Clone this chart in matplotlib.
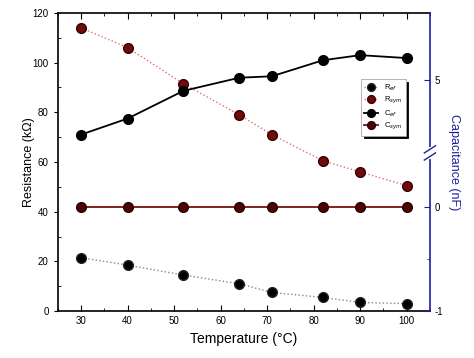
import numpy as np
import matplotlib
matplotlib.use("Agg")
import matplotlib.pyplot as plt
from matplotlib.ticker import MultipleLocator, FixedLocator

plt.rcParams['font.family'] = ['Liberation Sans', 'DejaVu Sans']

# data
temps = [30, 40, 52, 64, 71, 82, 90, 100]
r_ef = [21.5, 18.5, 14.5, 11.0, 7.5, 5.5, 3.5, 3.0]          # kOhm
r_sym = [114, 106, 91.5, 79, 71, 60.5, 56, 50.5]             # kOhm
c_ef = [4.25, 4.47, 4.85, 5.03, 5.05, 5.27, 5.34, 5.30]      # nF
c_sym = [0, 0, 0, 0, 0, 0, 0, 0]                              # nF

# broken capacitance axis: nF -> resistance-axis units
cap_pts = [-1.0, 0.525, 4.0, 5.92]
res_pts = [0.0, 63.6, 63.7, 120.0]

def fwd(c):
    return np.interp(c, cap_pts, res_pts)

def inv(r):
    return np.interp(r, res_pts, cap_pts)

navy = '#1f1f9a'
dark_red = '#6e0b0b'

fig = plt.figure(figsize=(4.74, 3.58), dpi=100)
ax = fig.add_axes([0.122, 0.131, 0.785, 0.833])
ax2 = ax.twinx()
ax2.set_yscale('function', functions=(fwd, inv))

ax.plot(temps, r_ef, ':', color='#888888', lw=1.0, marker='o', ms=7,
        mfc='black', mec='#222222', label=r'R$_{ef}$', zorder=3)
ax.plot(temps, r_sym, ':', color='#e07070', lw=1.0, marker='o', ms=7,
        mfc=dark_red, mec='#3a0000', label=r'R$_{sym}$', zorder=3)
l3, = ax2.plot(temps, c_ef, '-', color='black', lw=1.3, marker='o', ms=7,
               mfc='black', mec='black', label=r'C$_{ef}$', zorder=3)
l4, = ax2.plot(temps, c_sym, '-', color='#7a1010', lw=1.3, marker='o', ms=7,
               mfc='#4a0505', mec='#2a0000', label=r'C$_{sym}$', zorder=3)

ax.set_xlim(25, 105)
ax.set_ylim(0, 120)
ax2.set_ylim(-1, 5.92)

ax.xaxis.set_major_locator(MultipleLocator(10))
ax.xaxis.set_minor_locator(MultipleLocator(5))
ax.yaxis.set_major_locator(MultipleLocator(20))
ax.yaxis.set_minor_locator(MultipleLocator(10))
ax.tick_params(axis='x', which='both', direction='in', top=True, labelsize=7)
ax.tick_params(axis='x', which='major', length=4)
ax.tick_params(axis='x', which='minor', length=2)
ax.tick_params(axis='y', which='major', direction='out', length=3, labelsize=7)
ax.tick_params(axis='y', which='minor', direction='in', length=2)

ax2.yaxis.set_major_locator(FixedLocator([-1, 0, 5]))
ax2.yaxis.set_minor_locator(FixedLocator([-0.5]))
ax2.set_yticklabels(['-1', '0', '5'])
ax2.tick_params(axis='y', which='both', direction='in', colors=navy,
                labelcolor='black', labelsize=7)
ax2.tick_params(axis='y', which='major', length=4)
ax2.tick_params(axis='y', which='minor', length=2)

for s in ['left', 'bottom', 'top']:
    ax.spines[s].set_linewidth(1.2)
ax.spines['right'].set_visible(False)
ax2.spines['right'].set_color(navy)
ax2.spines['right'].set_linewidth(1.2)
ax2.spines['left'].set_visible(False)
ax2.spines['top'].set_visible(False)
ax2.spines['bottom'].set_visible(False)

# break mark on the right spine
yb = 63.65 / 120
ax2.plot([1, 1], [yb - 0.012, yb + 0.012], color='white', lw=3,
         transform=ax2.transAxes, clip_on=False, zorder=5)
for dy in (-0.012, 0.012):
    ax2.plot([0.985, 1.015], [yb + dy - 0.012, yb + dy + 0.012], color=navy,
             lw=1.0, transform=ax2.transAxes, clip_on=False, zorder=6)

ax.set_xlabel('Temperature (°C)', fontsize=10)
ax.set_ylabel('Resistance (kΩ)', fontsize=9)
ax.yaxis.set_label_coords(-0.062, 0.5)
ax2.set_ylabel('Capacitance (nF)', fontsize=9, color=navy, rotation=270,
               labelpad=12)

h1, lab1 = ax.get_legend_handles_labels()
leg = ax2.legend(h1 + [l3, l4], lab1 + [r'C$_{ef}$', r'C$_{sym}$'],
                 loc='upper right', bbox_to_anchor=(0.945, 0.79),
                 fontsize=5.5, frameon=True, fancybox=False,
                 shadow={'color': 'black', 'alpha': 1},
                 handlelength=1.8, borderpad=0.4, labelspacing=0.3,
                 markerscale=0.8)
leg.get_frame().set_edgecolor('#aaaaaa')
leg.get_frame().set_linewidth(0.6)

fig.savefig('out.png', dpi=100)
